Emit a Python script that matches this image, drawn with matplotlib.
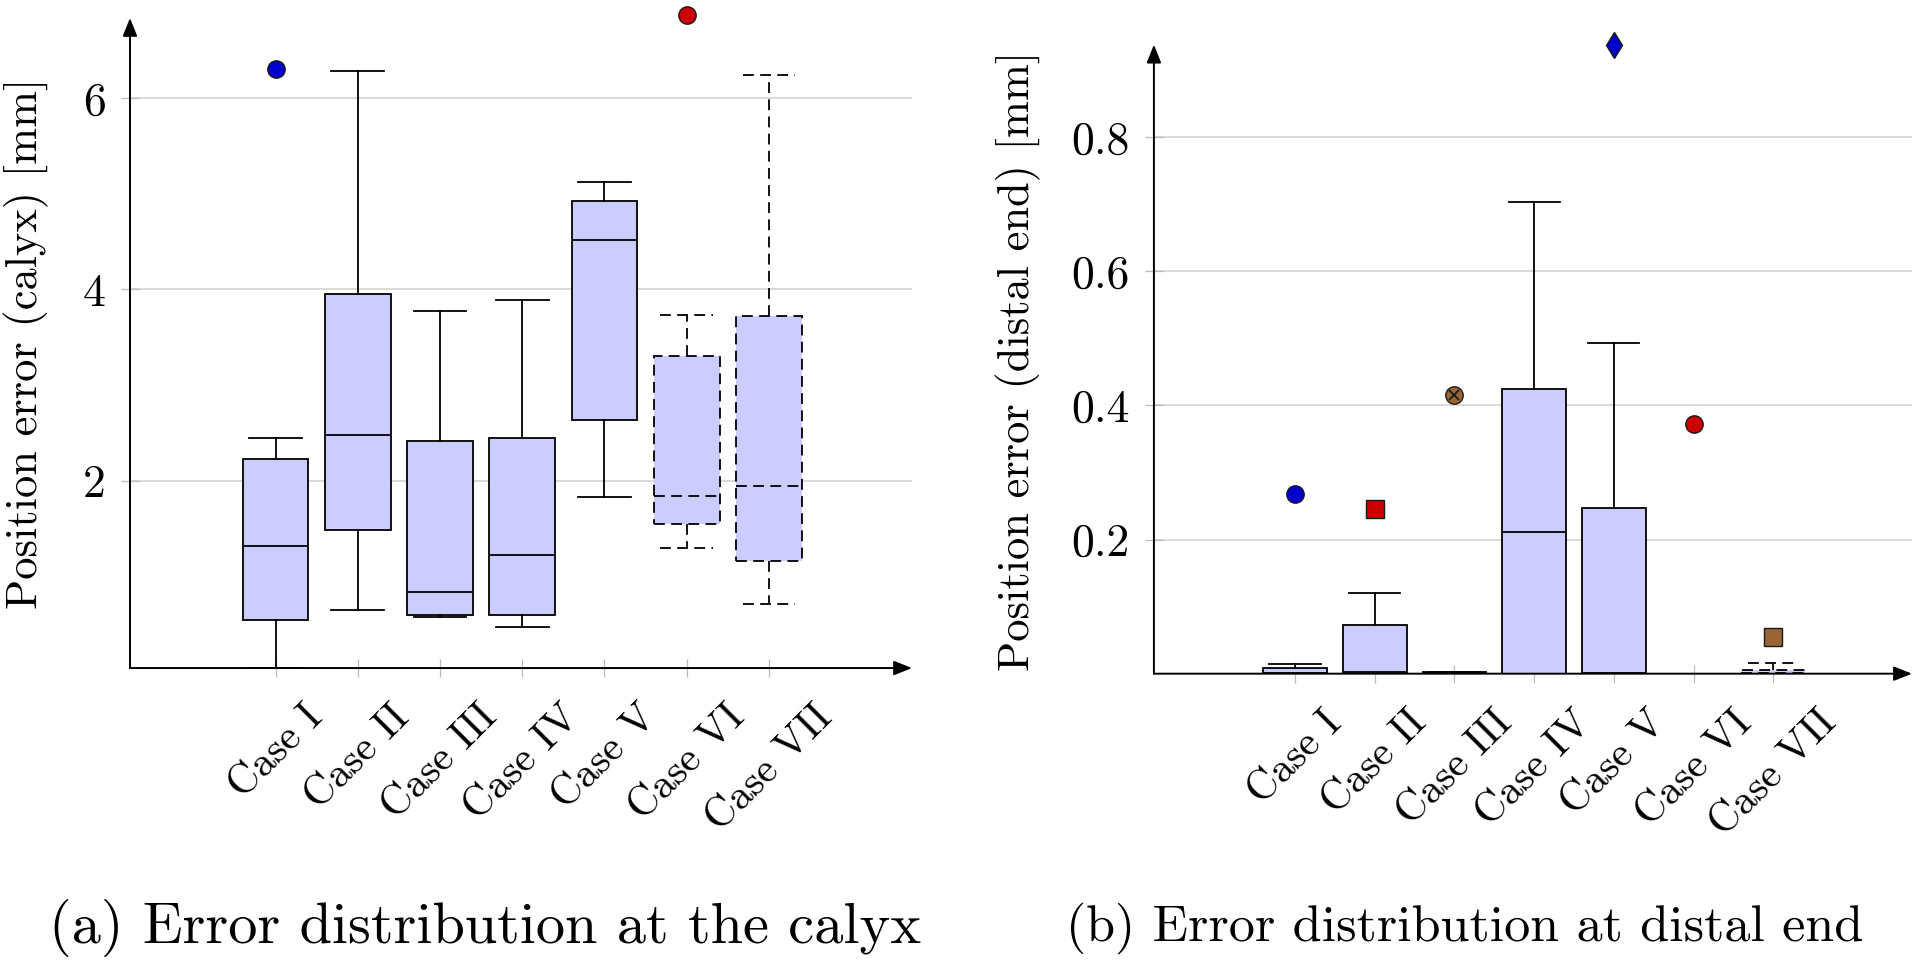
import numpy as np
import matplotlib.pyplot as plt

plt.rcParams['font.family'] = ['cmr10', 'DejaVu Serif']
plt.rcParams['axes.formatter.use_mathtext'] = True

cases = ['Case I', 'Case II', 'Case III', 'Case IV', 'Case V', 'Case VI', 'Case VII']

# (a) calyx
calyx_lo = [0.04, 0.65, 0.57, 0.47, 1.83, 1.30, 0.71]
calyx_q1 = [0.54, 1.48, 0.60, 0.60, 2.63, 1.55, 1.16]
calyx_med = [1.32, 2.48, 0.84, 1.22, 4.52, 1.84, 1.94]
calyx_q3 = [2.23, 3.95, 2.41, 2.45, 4.93, 3.30, 3.72]
calyx_hi = [2.45, 6.29, 3.77, 3.89, 5.12, 3.73, 6.24]
calyx_out_case = [1, 6]
calyx_out_val = [6.31, 6.87]

# (b) distal end
distal_lo = [0.0, 0.0, 0.0, 0.0, 0.0, 0.0, 0.0]
distal_q1 = [0.0, 0.0, 0.0, 0.0, 0.0, 0.0, 0.0]
distal_med = [0.001, 0.003, 0.0015, 0.211, 0.0005, 0.0, 0.001]
distal_q3 = [0.009, 0.072, 0.002, 0.424, 0.247, 0.0, 0.006]
distal_hi = [0.0145, 0.121, 0.002, 0.704, 0.4925, 0.0, 0.016]
distal_out_case = [1, 2, 3, 5, 6, 7]
distal_out_val = [0.268, 0.246, 0.415, 0.938, 0.373, 0.054]

# pgfplots default cycle list (mark style per case)
mark_style = {
    1: ('o', '#0000cc'),
    2: ('s', '#cc0000'),
    3: ('otimes', '#996633'),
    4: ('*', '#000000'),
    5: ('d', '#0000cc'),
    6: ('o', '#cc0000'),
    7: ('s', '#996633'),
}

grid_col = '#d3d3d3'
box_fill = '#ccccff'


def make_stats(lo, q1, med, q3, hi):
    stats = []
    for i in range(len(lo)):
        stats.append(dict(whislo=lo[i], q1=q1[i], med=med[i], q3=q3[i],
                          whishi=hi[i], fliers=[], label=cases[i]))
    return stats


def draw_panel(ax, stats, out_case, out_val, ylim, yticks, yticklabels, ylabel, label_x, label_y):
    pos = np.arange(1, len(cases) + 1)
    lw = 1.3
    bp = ax.bxp(stats, positions=pos, widths=0.8, capwidths=0.64, patch_artist=True,
                showfliers=False,
                boxprops=dict(facecolor=box_fill, edgecolor='black', linewidth=lw),
                whiskerprops=dict(color='black', linewidth=lw),
                capprops=dict(color='black', linewidth=lw),
                medianprops=dict(color='black', linewidth=lw))
    # Case VI and VII are densely dashed
    for i in [5, 6]:
        dash = (0, (6, 3.5))
        bp['boxes'][i].set_linestyle(dash)
        bp['medians'][i].set_linestyle(dash)
        for j in [2 * i, 2 * i + 1]:
            bp['whiskers'][j].set_linestyle(dash)
            bp['caps'][j].set_linestyle(dash)
    for a in bp['boxes'] + bp['whiskers'] + bp['caps'] + bp['medians']:
        a.set_zorder(3)

    for c, v in zip(out_case, out_val):
        m, col = mark_style[c]
        if m == 'otimes':
            ax.plot(c, v, 'o', ms=12.5, mfc=col, mec='#1a1a1a', mew=1.0, zorder=5, clip_on=False)
            ax.plot(c, v, 'x', ms=7, mec='#1a1a1a', mew=1.3, zorder=6, clip_on=False)
        elif m == 'd':
            ax.plot(c, v, 'd', ms=13, mfc=col, mec='#1a1a1a', mew=1.0, zorder=5, clip_on=False)
        else:
            ax.plot(c, v, m, ms=12.5, mfc=col, mec='#1a1a1a', mew=1.0, zorder=5, clip_on=False)

    ax.set_xlim(-0.77, 8.74)
    ax.set_ylim(ylim)
    ax.set_yticks(yticks)
    ax.set_yticklabels(yticklabels, fontsize=33)
    ax.set_xticks(pos)
    ax.set_xticklabels(cases, fontsize=30, rotation=45, ha='center', va='top')
    ax.tick_params(axis='both', direction='inout', length=13, width=0.9, color='#bbbbbb')
    ax.tick_params(axis='y', pad=11)
    ax.tick_params(axis='x', pad=15)
    ax.yaxis.grid(True, color=grid_col, linewidth=1.2, zorder=0)
    ax.set_axisbelow(True)
    for s in ax.spines.values():
        s.set_visible(False)
    arrow = dict(arrowstyle='-|>,head_length=0.55,head_width=0.22', color='black',
                 linewidth=1.4, shrinkA=0, shrinkB=0, mutation_scale=20)
    ax.annotate('', xy=(1, 0), xytext=(0, 0), xycoords='axes fraction', arrowprops=arrow)
    ax.annotate('', xy=(0, 1), xytext=(0, 0), xycoords='axes fraction', arrowprops=arrow)
    ax.set_ylabel(ylabel, fontsize=32)
    ax.yaxis.set_label_coords(label_x, label_y)


fig = plt.figure(figsize=(19.2, 9.71), dpi=100)
ax1 = fig.add_axes([0.0677, 0.312, 0.4073, 0.6695])
ax2 = fig.add_axes([0.601, 0.3062, 0.3948, 0.6478])

draw_panel(ax1, make_stats(calyx_lo, calyx_q1, calyx_med, calyx_q3, calyx_hi),
           calyx_out_case, calyx_out_val, (0.04, 6.84), [2, 4, 6], ['2', '4', '6'],
           'Position error (calyx) [mm]', -0.104, 0.5)
draw_panel(ax2, make_stats(distal_lo, distal_q1, distal_med, distal_q3, distal_hi),
           distal_out_case, distal_out_val, (0.0, 0.938), [0.2, 0.4, 0.6, 0.8],
           ['0.2', '0.4', '0.6', '0.8'],
           'Position error (distal end) [mm]', -0.149, 0.497)

fig.text(485 / 1920, 1 - 928 / 971, '(a) Error distribution at the calyx',
         ha='center', va='center', fontsize=42)
fig.text(1465 / 1920, 1 - 928 / 971, '(b) Error distribution at distal end',
         ha='center', va='center', fontsize=37.5)

fig.savefig('out.png', dpi=100)
